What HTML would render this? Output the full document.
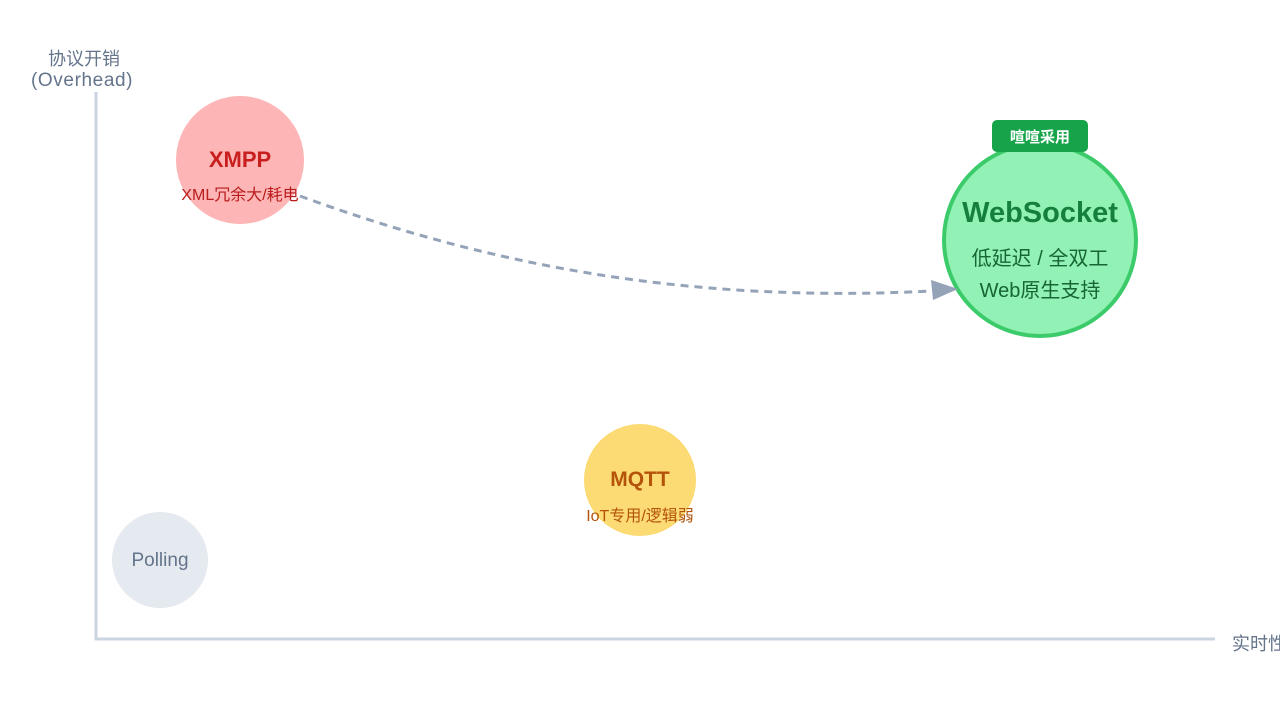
<!DOCTYPE html>
<html><head><meta charset="utf-8"><style>
body{margin:0;width:1280px;height:720px;background:#fff;overflow:hidden;position:relative;font-family:"Liberation Sans","Noto Sans CJK SC",sans-serif}
.t{position:absolute;white-space:nowrap}
</style></head><body>
<svg width="1280" height="720" style="position:absolute;left:0;top:0">
<line x1="96" y1="92" x2="96" y2="640" stroke="#cbd5e1" stroke-width="3"/>
<line x1="95" y1="639" x2="1215" y2="639" stroke="#cbd5e1" stroke-width="3"/>
<circle cx="240" cy="160" r="64" fill="#fdb5b5"/>
<circle cx="640" cy="480" r="56" fill="#fcdb74"/>
<circle cx="160" cy="560" r="48" fill="#e5e9f0"/>
<path d="M300,196 C 480,262 680,304 932,291" fill="none" stroke="#94a3b8" stroke-width="3" stroke-dasharray="8,6"/>
<circle cx="1040" cy="240" r="96" fill="#92f1b4" stroke="#3ccb6a" stroke-width="4"/>
<polygon points="958,289 931,280 933,300" fill="#94a3b8"/>
<rect x="992" y="120" width="96" height="32" rx="5" fill="#16a34a"/>
</svg>
<div class="t" style="left:48px;top:45px;font-size:18px;color:#64748b">协议开销</div>
<div class="t" style="left:31px;top:70px;font-size:19px;letter-spacing:0.6px;color:#64748b">(Overhead)</div>
<div class="t" style="left:1232px;top:630px;font-size:18px;color:#64748b">实时性</div>
<div class="t" style="left:176px;top:147px;width:128px;text-align:center;font-size:22px;font-weight:bold;color:#c81e1e">XMPP</div>
<div class="t" style="left:160px;top:181px;width:160px;text-align:center;font-size:16px;color:#b91c1c">XML冗余大/耗电</div>
<div class="t" style="left:584px;top:468px;width:112px;text-align:center;font-size:21px;font-weight:bold;color:#b45309">MQTT</div>
<div class="t" style="left:560px;top:502px;width:160px;text-align:center;font-size:16px;color:#b45309">IoT专用/逻辑弱</div>
<div class="t" style="left:112px;top:550px;width:96px;text-align:center;font-size:19px;color:#64748b">Polling</div>
<div class="t" style="left:992px;top:126px;width:96px;text-align:center;font-size:15px;font-weight:bold;color:#fff">喧喧采用</div>
<div class="t" style="left:934px;top:197px;width:212px;text-align:center;font-size:29px;font-weight:bold;color:#15803d">WebSocket</div>
<div class="t" style="left:934px;top:242px;width:212px;text-align:center;font-size:20px;color:#166534">低延迟 / 全双工</div>
<div class="t" style="left:934px;top:274px;width:212px;text-align:center;font-size:20px;color:#166534">Web原生支持</div>
</body></html>
